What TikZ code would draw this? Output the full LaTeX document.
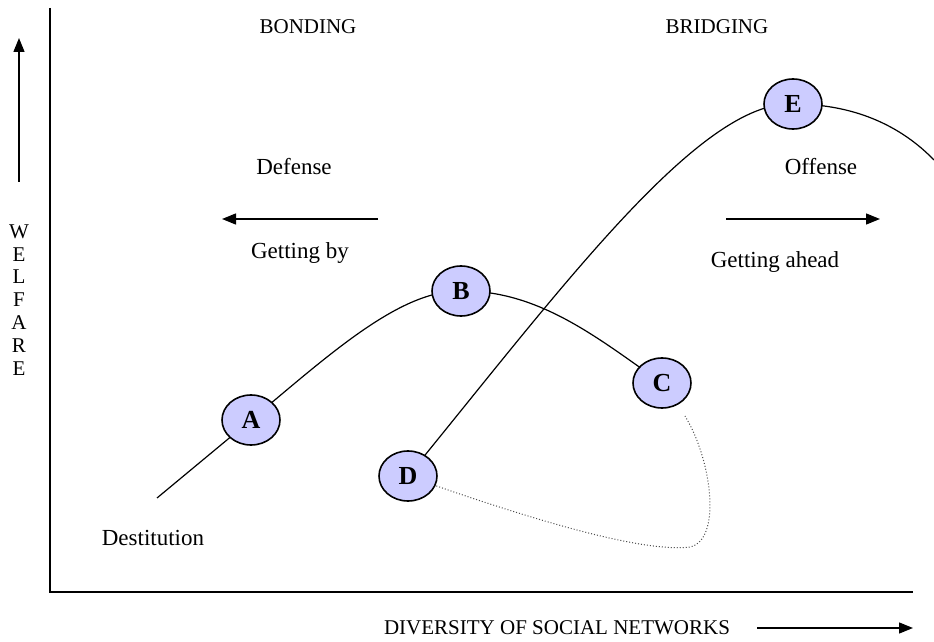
\documentclass[tikz,border=0pt]{standalone}
\usepackage{fontspec}
\setmainfont{Liberation Serif}
\usetikzlibrary{arrows.meta,shapes.geometric}
\definecolor{nodefill}{RGB}{204,204,255}
\tikzset{
  pt/.style={ellipse, draw=black, line width=0.8pt, fill=nodefill, minimum width=29pt, minimum height=25pt, inner sep=0pt, font=\fontsize{13}{15}\selectfont\bfseries},
  lbl/.style={font=\fontsize{11.5}{13}\selectfont, inner sep=0pt},
  captxt/.style={font=\fontsize{10.5}{12}\selectfont, inner sep=0pt},
  curve/.style={line width=0.6pt},
  axis/.style={line width=1pt},
  arr/.style={line width=0.7pt, -{Triangle[length=7pt,width=5.5pt]}},
}
\begin{document}
\begin{tikzpicture}[x=0.5pt,y=-0.5pt]
\useasboundingbox (0,0) rectangle (934,642);
% axes
\coordinate (top) at (50,8);
\coordinate (orig) at (50,592);
\coordinate (xend) at (913,592);
\draw[axis] (top) -- (orig) -- (xend);
% welfare arrow
\coordinate (wa1) at (19,182);
\coordinate (wa2) at (19,38);
\draw[arr] (wa1) -- (wa2);
\node[captxt] (wel) at (19,302) {\begin{tabular}{@{}c@{}}W\\[-0.6pt]E\\[-0.6pt]L\\[-0.6pt]F\\[-0.6pt]A\\[-0.6pt]R\\[-0.6pt]E\end{tabular}};
% bottom label
\node[captxt] (div) at (557,628) {DIVERSITY OF SOCIAL NETWORKS};
\coordinate (da1) at (757,628);
\coordinate (da2) at (913,628);
\draw[arr] (da1) -- (da2);
% texts
\node[captxt] (bond) at (308,27) {BONDING};
\node[captxt] (brid) at (717,27) {BRIDGING};
\node[lbl] (def) at (294,167) {Defense};
\node[lbl] (gby) at (300,253) {Getting by};
\node[lbl] (off) at (821,167) {Offense};
\node[lbl] (gah) at (775,262) {Getting ahead};
\node[lbl] (dest) at (153,538) {Destitution};
% arrows
\coordinate (la1) at (378,219);
\coordinate (la2) at (222,219);
\coordinate (ra1) at (726,219);
\coordinate (ra2) at (880,219);
\draw[arr] (la1) -- (la2);
\draw[arr] (ra1) -- (ra2);
% node positions
\coordinate (pA) at (251,420);
\coordinate (pB) at (461,291);
\coordinate (pC) at (662,383);
\coordinate (pD) at (408,476);
\coordinate (pE) at (793,104);
\coordinate (s) at (157,498);
\coordinate (eend) at (934,160);
\coordinate (dotend) at (685,416);
\coordinate (dotlow) at (690,547);
% curves
\draw[curve] (s) -- (pA) .. controls (330,354) and (400,290) .. (pB) .. controls (540,290) and (600,340) .. (pC);
\draw[curve] (pD) .. controls (560,290) and (700,100) .. (pE) .. controls (860,104) and (905,130) .. (eend);
\draw[line width=0.5pt, densely dotted, black!70] (pD) .. controls (560,530) and (650,552) .. (dotlow) .. controls (722,540) and (712,460) .. (dotend);
% nodes
\node[pt] (A) at (pA) {A};
\node[pt] (B) at (pB) {B};
\node[pt] (C) at (pC) {C};
\node[pt] (D) at (pD) {D};
\node[pt] (E) at (pE) {E};
\end{tikzpicture}
\end{document}
